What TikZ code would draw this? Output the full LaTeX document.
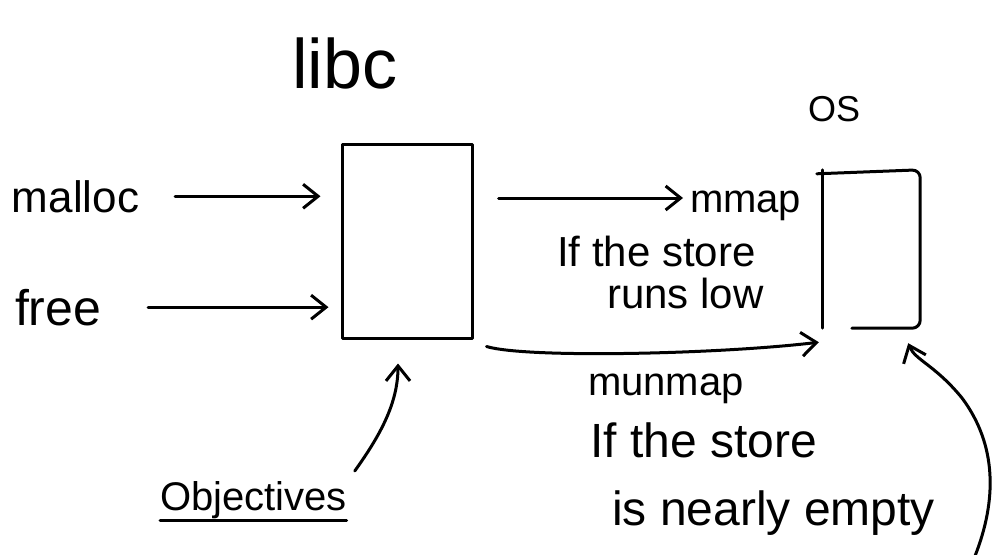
\documentclass[tikz,border=0pt]{standalone}
\usepackage{fontspec}
\setmainfont{Liberation Sans}
\usetikzlibrary{arrows.meta,calc}
\newcommand\myfs[2]{\fontsize{#1}{#2}\selectfont}
\begin{document}
\begin{tikzpicture}[x=1pt,y=-1pt,
  ink/.style={line width=3pt, line cap=round, line join=round},
  arr/.style={ink, -{Straight Barb[length=15pt,width=24pt]}},
  txt/.style={anchor=base west, inner sep=0pt, outer sep=0pt}]
\path[use as bounding box, fill=white] (0,0) rectangle (992,554);

% titles
\node[txt, font=\myfs{70}{72}] (libc) at (292,88) {libc};
\node[txt, font=\myfs{36}{38}] (os) at (808,121) {OS};

% boxes
\node[draw, ink, minimum width=130pt, minimum height=194pt, inner sep=0pt] (box) at (407,241) {};
\node[minimum width=97pt, minimum height=158pt, inner sep=0pt] (osbox) at (871.5,249) {};
\draw[ink] (osbox.north west) -- (osbox.south west);
\draw[ink, rounded corners=8pt] ($(osbox.north west)+(-6,4)$) -- (osbox.north east) -- (osbox.south east) -- ($(osbox.south west)+(29,0)$);

% inputs
\node[txt, font=\myfs{44}{46}] (malloc) at (12,212) {malloc};
\node[txt, font=\myfs{50}{52}] (free) at (15,325) {free};
\draw[arr, shorten <=36pt, shorten >=20pt] (malloc.east) -- (malloc.east -| box.west);
\draw[arr, shorten <=47pt, shorten >=12pt] (free.east) -- (free.east -| box.west);

% mmap
\node[txt, font=\myfs{40}{42}] (mmap) at (690,212) {mmap};
\draw[arr] ($(box.east)+(25,-43)$) -- ($(box.east -| mmap.west)+(-7,-43)$);
\node[anchor=north west, inner sep=0pt, align=left, font=\myfs{42}{42}] (low) at (557,236) {If the store\\\hspace*{50pt}runs low};

% munmap
\draw[arr] ($(box.south east)+(13,7)$) .. controls +(40,12) and +(-100,12) .. ($(osbox.south west)+(-4,14)$);
\node[txt, font=\myfs{40}{42}] (munmap) at (588,395) {munmap};
\node[anchor=north west, inner sep=0pt, align=left, font=\myfs{48}{68}] (empty) at (590,423) {If the store\\\hspace*{22pt}is nearly empty};

% objectives
\node[txt, font=\myfs{40}{42}] (obj) at (160,510) {Objectives};
\draw[ink] ($(obj.base west)+(0,10)$) -- ($(obj.base east)+(0,10)$);
\draw[arr] ($(obj.north east)+(8,-10)$) .. controls +(25,-35) and +(0,40) .. ($(box.south)+(-9,24)$);

% free-ended curve to OS
\coordinate (tail) at (975,556);
\draw[arr] (tail) .. controls (997,500) and (997,445) .. (962,398) .. controls (935,365) and (915,360) .. ($(osbox.south east)+(-12,15)$);
\end{tikzpicture}
\end{document}
